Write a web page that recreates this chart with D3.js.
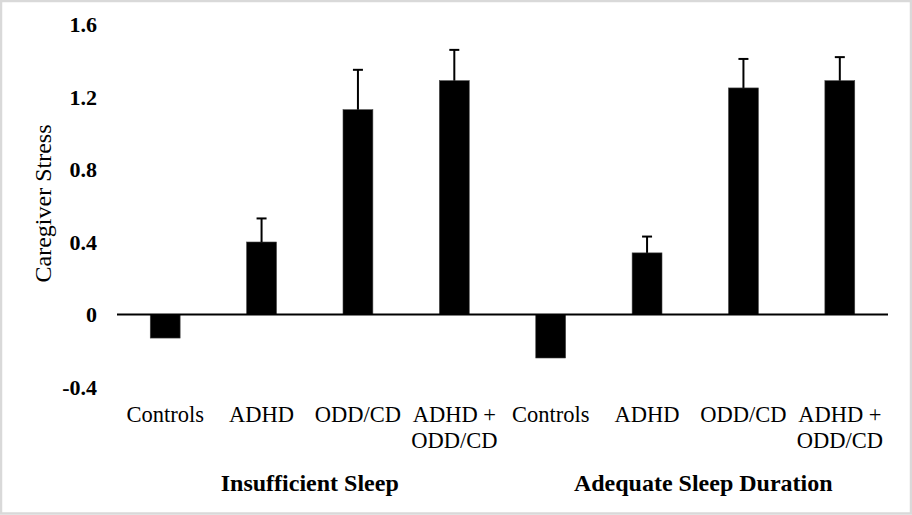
<!DOCTYPE html>
<html>
<head>
<meta charset="utf-8">
<script src="https://cdn.jsdelivr.net/npm/d3@7"></script>
<style>
  body { margin: 0; background: #fff; }
  svg { display: block; }
  svg text { font-family: "Liberation Serif", "Times New Roman", serif; fill: #000; }
</style>
</head>
<body>
<script>
"use strict"

// data
const categories = ['Controls', 'ADHD', 'ODD/CD', 'ADHD +|ODD/CD', 'Controls', 'ADHD', 'ODD/CD', 'ADHD +|ODD/CD'];
const groups = ['Insufficient Sleep', 'Adequate Sleep Duration'];
const means = [-0.13, 0.40, 1.13, 1.29, -0.24, 0.34, 1.25, 1.29];
const errors = [null, 0.13, 0.22, 0.17, null, 0.09, 0.16, 0.13];
const yTicks = [-0.4, 0, 0.4, 0.8, 1.2, 1.6];

const w = 912;
const h = 515;

const svg = d3.select('body')
	.append('svg')
	.attr('width', w)
	.attr('height', h);

// light grey frame round the whole picture
svg.append('rect')
	.attr('x', 1)
	.attr('y', 1)
	.attr('width', w - 2)
	.attr('height', h - 2.5)
	.attr('fill', '#fff')
	.attr('stroke', '#d9d9d9')
	.attr('stroke-width', 2.5);

const idx = d3.range(categories.length);

const xScale = d3.scaleBand()
	.domain(idx)
	.range([117, 888])
	.paddingInner(0.69)
	.paddingOuter(0.345);

const yScale = d3.scaleLinear()
	.domain([-0.4, 1.6])
	.range([387, 24.5]);

// y tick labels, no axis line
const yAxis = d3.axisLeft(yScale)
	.tickValues(yTicks)
	.tickSize(0)
	.tickPadding(0)
	.tickFormat(d => d === 0 ? '0' : d.toFixed(1));

const yG = svg.append('g')
	.attr('transform', 'translate(97,0)')
	.call(yAxis);
yG.attr('font-family', null).attr('font-size', null);
yG.select('.domain').remove();
yG.selectAll('text')
	.style('font-size', '22px')
	.style('font-weight', 'bold')
	.attr('dy', '0.34em');

svg.append('text')
	.attr('transform', 'translate(51,' + 203.5 + ') rotate(-90)')
	.attr('text-anchor', 'middle')
	.style('font-size', '24px')
	.text('Caregiver Stress');

// bars
svg.selectAll('rect.bar')
	.data(idx)
	.enter()
	.append('rect')
	.attr('class', 'bar')
	.attr('x', i => xScale(i))
	.attr('y', i => yScale(Math.max(0, means[i])))
	.attr('width', xScale.bandwidth())
	.attr('height', i => Math.abs(yScale(means[i]) - yScale(0)))
	.attr('fill', '#000')
	.attr('stroke', '#444')
	.attr('stroke-width', 0.6);

// error bars (plus side only)
const errIdx = idx.filter(i => errors[i] !== null);
const cx = i => xScale(i) + xScale.bandwidth() / 2;

svg.selectAll('line.err')
	.data(errIdx)
	.enter()
	.append('line')
	.attr('class', 'err')
	.attr('x1', cx)
	.attr('x2', cx)
	.attr('y1', i => yScale(means[i]))
	.attr('y2', i => yScale(means[i] + errors[i]))
	.attr('stroke', '#000')
	.attr('stroke-width', 2);

svg.selectAll('line.cap')
	.data(errIdx)
	.enter()
	.append('line')
	.attr('class', 'cap')
	.attr('x1', i => cx(i) - 5)
	.attr('x2', i => cx(i) + 5)
	.attr('y1', i => yScale(means[i] + errors[i]))
	.attr('y2', i => yScale(means[i] + errors[i]))
	.attr('stroke', '#000')
	.attr('stroke-width', 2);

// zero line
svg.append('line')
	.attr('x1', xScale.range()[0])
	.attr('x2', xScale.range()[1])
	.attr('y1', yScale(0))
	.attr('y2', yScale(0))
	.attr('stroke', '#000')
	.attr('stroke-width', 2.2);

// category labels
const catText = svg.selectAll('text.cat')
	.data(idx)
	.enter()
	.append('text')
	.attr('class', 'cat')
	.attr('text-anchor', 'middle')
	.style('font-size', '22.5px')
	.attr('y', 421.5);

catText.selectAll('tspan')
	.data(i => categories[i].split('|').map(s => ({ s: s, i: i })))
	.enter()
	.append('tspan')
	.attr('x', d => cx(d.i))
	.attr('dy', (d, k) => k === 0 ? 0 : 26)
	.text(d => d.s);

// group labels
const groupOffset = [0, 8];
svg.selectAll('text.grp')
	.data(groups)
	.enter()
	.append('text')
	.attr('class', 'grp')
	.attr('text-anchor', 'middle')
	.style('font-size', '24px')
	.style('font-weight', 'bold')
	.attr('x', (d, g) => (xScale(g * 4) + xScale(g * 4 + 3) + xScale.bandwidth()) / 2 + groupOffset[g])
	.attr('y', 490.5)
	.text(d => d);
</script>
</body>
</html>
